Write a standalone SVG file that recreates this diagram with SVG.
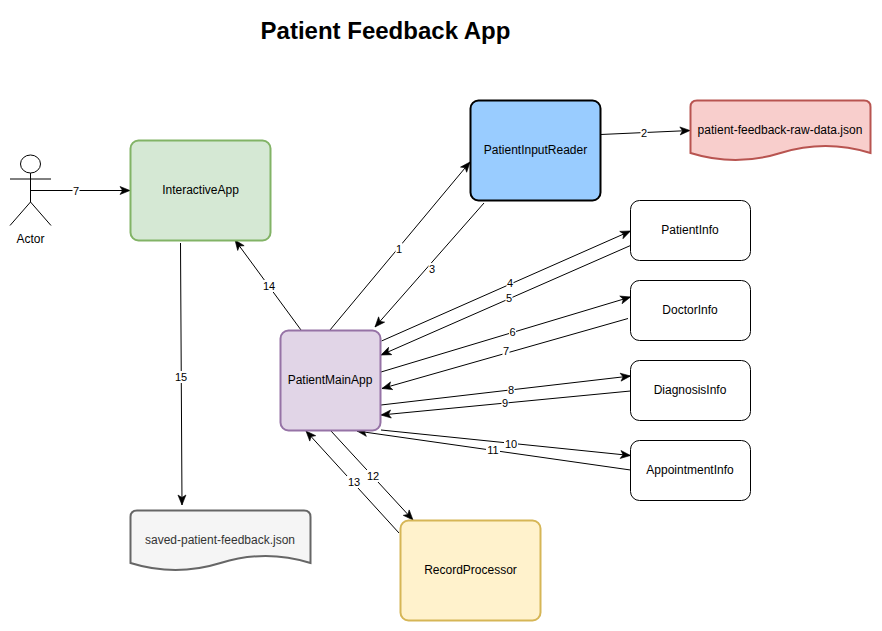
<svg xmlns="http://www.w3.org/2000/svg" width="882" height="631" viewBox="0 0 882 631">
<style>
text{font-family:"Liberation Sans",Arial,Helvetica,sans-serif;font-size:12px;fill:#000;text-anchor:middle;dominant-baseline:central}
.title{font-size:24px;font-weight:bold}
.lbl{font-size:11px}
.c{fill:none;stroke:#000;stroke-width:1;marker-end:url(#a)}
.bg{fill:#fff;stroke:none}
.n{stroke-width:2}
.w{fill:#fff;stroke:#000;stroke-width:1}
</style>
<defs>
<marker id="a" markerUnits="userSpaceOnUse" markerWidth="12" markerHeight="12" refX="10" refY="5" orient="auto" overflow="visible">
<path d="M0 1 L10 5 L0 9 L2.500 5 Z" fill="#000" stroke="#000" stroke-width="0.6"/>
</marker>
</defs>
<text class="title" x="385.500" y="30">Patient Feedback App</text>
<g id="connectors">
<path class="c" d="M30.500 190.500H130"/>
<path class="c" d="M330 330L470 162"/>
<path class="c" d="M600.500 134.500L690 130.500"/>
<path class="c" d="M484 203L375 327"/>
<path class="c" d="M381.500 341L630.500 231"/>
<path class="c" d="M630.500 245.500L381 355"/>
<path class="c" d="M381 372L630.500 297"/>
<path class="c" d="M628 318.500L382 388.500"/>
<path class="c" d="M381 405L630.500 376"/>
<path class="c" d="M630.500 391L381 415"/>
<path class="c" d="M381 430L630.500 455.500"/>
<path class="c" d="M630.500 470L357 431"/>
<path class="c" d="M331 431L413 520"/>
<path class="c" d="M399 533L306 431"/>
<path class="c" d="M301 330L235 240"/>
<path class="c" d="M180.500 243L182 505"/>
<g id="connector-labels">
<rect class="bg" x="72.500" y="185" width="7" height="12"/><text class="lbl" x="76" y="191">7</text>
<rect class="bg" x="395.500" y="243" width="7" height="12"/><text class="lbl" x="399" y="249">1</text>
<rect class="bg" x="640.500" y="127" width="7" height="12"/><text class="lbl" x="644" y="133">2</text>
<rect class="bg" x="428.500" y="263" width="7" height="12"/><text class="lbl" x="432" y="269">3</text>
<rect class="bg" x="506.500" y="277" width="7" height="12"/><text class="lbl" x="510" y="283">4</text>
<rect class="bg" x="505.500" y="292" width="7" height="12"/><text class="lbl" x="509" y="298">5</text>
<rect class="bg" x="509" y="326" width="7" height="12"/><text class="lbl" x="512.500" y="332">6</text>
<rect class="bg" x="502.500" y="345" width="7" height="12"/><text class="lbl" x="506" y="351">7</text>
<rect class="bg" x="507.500" y="384" width="7" height="12"/><text class="lbl" x="511" y="390">8</text>
<rect class="bg" x="501.500" y="397" width="7" height="12"/><text class="lbl" x="505" y="403">9</text>
<rect class="bg" x="504" y="438" width="14" height="12"/><text class="lbl" x="511" y="444">10</text>
<rect class="bg" x="486" y="444" width="14" height="12"/><text class="lbl" x="493" y="450">11</text>
<rect class="bg" x="366" y="470" width="14" height="12"/><text class="lbl" x="373" y="476">12</text>
<rect class="bg" x="347" y="476" width="14" height="12"/><text class="lbl" x="354" y="482">13</text>
<rect class="bg" x="262" y="280" width="14" height="12"/><text class="lbl" x="269" y="286">14</text>
<rect class="bg" x="174" y="371" width="14" height="12"/><text class="lbl" x="181" y="377">15</text>
</g>
</g>
<g id="actor" fill="none" stroke="#000">
<ellipse cx="30.500" cy="164" rx="10" ry="9" fill="#fff"/>
<path d="M30.500 173V202M10 179H51M10 225.500L30.500 202L51 225.500"/>
<text x="30.500" y="239" stroke="none">Actor</text>
</g>
<g id="interactive-app">
<rect class="n" x="130.500" y="140.500" width="140" height="100" rx="8" fill="#d5e8d4" stroke="#82b366"/>
<text x="200.500" y="190">InteractiveApp</text>
</g>
<g id="patient-input-reader">
<rect class="n" x="470.500" y="100.500" width="130" height="100" rx="8" fill="#99ccff" stroke="#000"/>
<text x="535.500" y="150">PatientInputReader</text>
</g>
<g id="raw-data">
<path class="n" d="M690.500 107Q690.500 100.500 697 100.500H864Q870.500 100.500 870.500 107V153Q825.500 139 780.500 153Q735.500 167 690.500 153Z" fill="#f8cecc" stroke="#b85450"/>
<text x="780" y="130">patient-feedback-raw-data.json</text>
</g>
<g id="patient-info">
<rect class="w" x="630.500" y="200.500" width="120" height="60" rx="9"/>
<text x="690" y="230">PatientInfo</text>
</g>
<g id="doctor-info">
<rect class="w" x="630.500" y="280.500" width="120" height="60" rx="9"/>
<text x="690" y="310">DoctorInfo</text>
</g>
<g id="diagnosis-info">
<rect class="w" x="630.500" y="360.500" width="120" height="60" rx="9"/>
<text x="690" y="390">DiagnosisInfo</text>
</g>
<g id="appointment-info">
<rect class="w" x="630.500" y="440.500" width="120" height="60" rx="9"/>
<text x="690" y="470">AppointmentInfo</text>
</g>
<g id="patient-main-app">
<rect class="n" x="280.500" y="330.500" width="100" height="100" rx="8" fill="#e1d5e7" stroke="#9673a6"/>
<text x="330" y="380">PatientMainApp</text>
</g>
<g id="record-processor">
<rect class="n" x="400.500" y="520.500" width="140" height="100" rx="8" fill="#fff2cc" stroke="#d6b656"/>
<text x="470.500" y="570">RecordProcessor</text>
</g>
<g id="saved-feedback">
<path class="n" d="M130.500 517Q130.500 510.500 137 510.500H304Q310.500 510.500 310.500 517V563Q265.500 549 220.500 563Q175.500 577 130.500 563Z" fill="#f5f5f5" stroke="#666"/>
<text x="220" y="540" style="fill:#333">saved-patient-feedback.json</text>
</g>
</svg>
